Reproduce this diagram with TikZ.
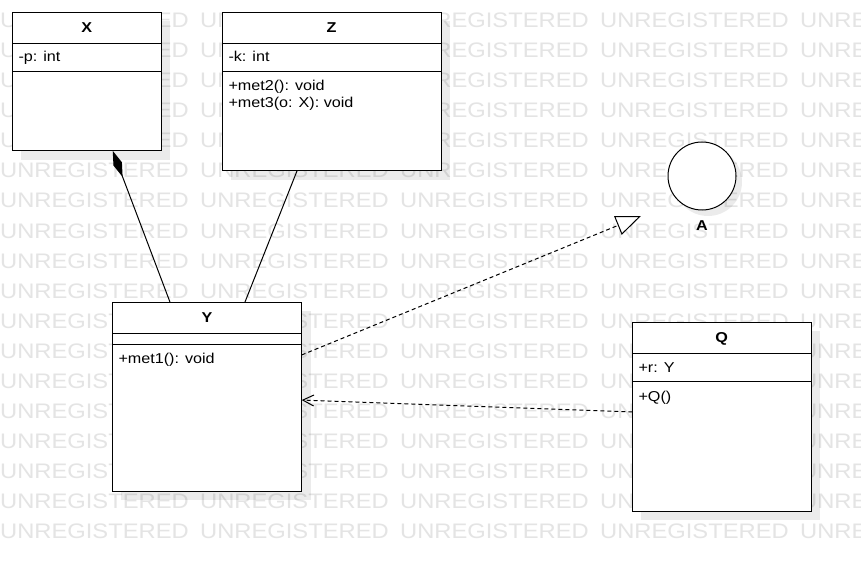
\documentclass[tikz,border=0pt]{standalone}
\usepackage{fontspec}
\setmainfont{Liberation Sans}[FakeStretch=1.13]
\usetikzlibrary{calc,arrows.meta,shadows}

\definecolor{wmgray}{RGB}{228,228,228}

\tikzset{
  classbox/.style={draw=black, line width=1pt, fill=white, rectangle, anchor=north west,
    inner sep=0pt, outer sep=0pt,
    drop shadow={shadow xshift=9pt, shadow yshift=-9pt, fill=black, opacity=0.08}},
  classname/.style={anchor=base, inner sep=0pt, font=\fontsize{14.3}{17}\selectfont\bfseries},
  member/.style={anchor=base west, inner sep=0pt, font=\fontsize{14.3}{17}\selectfont},
  sepline/.style={line width=1pt},
  watermark/.style={anchor=base west, inner sep=0pt, text=wmgray, font=\fontsize{21}{24}\selectfont},
  assoc/.style={line width=1pt},
  dashedrel/.style={line width=1pt, dash pattern=on 4pt off 3pt},
}

\begin{document}
\begin{tikzpicture}[x=1pt, y=-1pt]
  \useasboundingbox (0,0) rectangle (861,561);
  \fill[white] (0,0) rectangle (861,561);

  % background watermark rows
  \foreach \r in {0,...,17} {
    \foreach \c in {0,...,4} {
      \node[watermark] (wm-\r-\c) at (200*\c, 28+30*\r) {UNREGISTERED};
    }
  }

  % class boxes
  \node[classbox, minimum width=149pt, minimum height=138.5pt] (X) at (12.3,12.3) {};
  \node[classbox, minimum width=218.7pt, minimum height=158.4pt] (Z) at (222.3,12.3) {};
  \node[classbox, minimum width=189.4pt, minimum height=188.7pt] (Y) at (112.3,302.3) {};
  \node[classbox, minimum width=178.7pt, minimum height=188.7pt] (Q) at (632.3,322.3) {};

  % interface circle
  \node[draw=black, line width=1pt, fill=white, circle, minimum size=68pt, inner sep=0pt,
        drop shadow={shadow xshift=6pt, shadow yshift=-6pt, fill=black, opacity=0.08}]
        (A) at (702,176) {};
  \node[classname] (Aname) at ($(A.south)+(0,20)$) {A};

  % compartments of X
  \draw[sepline] ($(X.north west)+(0,31)$) -- ($(X.north east)+(0,31)$);
  \draw[sepline] ($(X.north west)+(0,59.5)$) -- ($(X.north east)+(0,59.5)$);
  \node[classname] (Xname) at ($(X.north)+(0,20.4)$) {X};
  \node[member] (Xp) at ($(X.north west)+(6,49.2)$) {-p: int};

  % compartments of Z
  \draw[sepline] ($(Z.north west)+(0,31)$) -- ($(Z.north east)+(0,31)$);
  \draw[sepline] ($(Z.north west)+(0,59.5)$) -- ($(Z.north east)+(0,59.5)$);
  \node[classname] (Zname) at ($(Z.north)+(0,20.4)$) {Z};
  \node[member] (Zk) at ($(Z.north west)+(6,49.2)$) {-k: int};
  \node[member] (Zm2) at ($(Z.north west)+(6,78.2)$) {+met2(): void};
  \node[member] (Zm3) at ($(Z.north west)+(6,95.2)$) {+met3(o: X): void};

  % compartments of Y
  \draw[sepline] ($(Y.north west)+(0,31)$) -- ($(Y.north east)+(0,31)$);
  \draw[sepline] ($(Y.north west)+(0,42)$) -- ($(Y.north east)+(0,42)$);
  \node[classname] (Yname) at ($(Y.north)+(0,20.5)$) {Y};
  \node[member] (Ym1) at ($(Y.north west)+(6,61)$) {+met1(): void};

  % compartments of Q
  \draw[sepline] ($(Q.north west)+(0,31)$) -- ($(Q.north east)+(0,31)$);
  \draw[sepline] ($(Q.north west)+(0,59.5)$) -- ($(Q.north east)+(0,59.5)$);
  \node[classname] (Qname) at ($(Q.north)+(0,20.5)$) {Q};
  \node[member] (Qr) at ($(Q.north west)+(6,50)$) {+r: Y};
  \node[member] (Qc) at ($(Q.north west)+(6,79.5)$) {+Q()};

  % composition Y -> X
  \draw[assoc, -{Diamond[length=28pt, width=9pt, fill=black]}]
    ($(Y.north west)!0.305!(Y.north east)$) -- ($(X.south west)!0.674!(X.south east)$);

  % association Z -- Y
  \draw[assoc] ($(Z.south west)!0.342!(Z.south east)$) -- ($(Y.north west)!0.70!(Y.north east)$);

  % realization from Y, open-ended
  \coordinate (realtip) at (641,216);
  \draw[dashedrel, -{Triangle[open, length=25pt, width=20pt, fill=white, line width=1pt]}]
    ($(Y.north east)!0.279!(Y.south east)$) -- (realtip);

  % dependency Q -> Y
  \draw[dashedrel, -{Straight Barb[length=11pt, width=11pt, line width=1pt]}]
    ($(Q.north west)!0.475!(Q.south west)$) -- ($(Y.north east)!0.518!(Y.south east)$);
\end{tikzpicture}
\end{document}
